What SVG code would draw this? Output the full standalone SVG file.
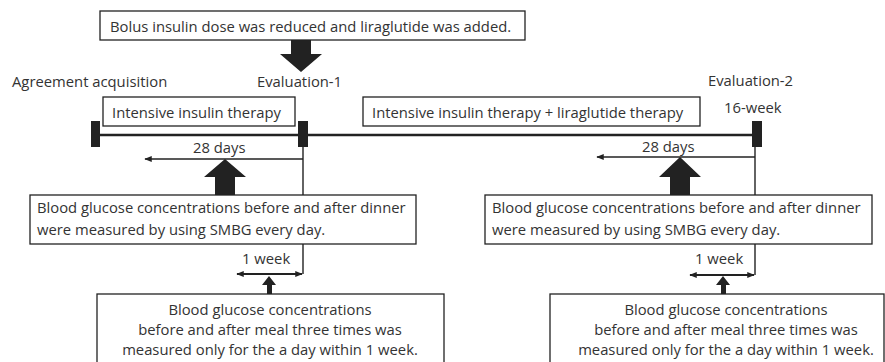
<svg xmlns="http://www.w3.org/2000/svg" width="885" height="362" viewBox="0 0 885 362">
<style>
text{font-family:"Open Sans","Liberation Sans",sans-serif;font-size:14.8px;fill:#333}
.box{fill:#fff;stroke:#222;stroke-width:1.3}
.ln{stroke:#222;stroke-width:1.4;fill:none}
.wk{stroke:#222;stroke-width:2;fill:none}
.tl{stroke:#222;stroke-width:2.6;fill:none}
.blk{fill:#222}
.c{text-anchor:middle}
</style>
<defs>
<marker id="ah" viewBox="0 0 10 8" refX="9" refY="4" markerWidth="8" markerHeight="6" orient="auto-start-reverse" markerUnits="userSpaceOnUse">
<path d="M0,0 L10,4 L0,8 Z" fill="#222"/>
</marker>
</defs>
<g id="connectors">
<line class="tl" x1="96" y1="135" x2="757" y2="135"/>
<line class="ln" x1="303" y1="147" x2="303" y2="274"/>
<line class="ln" x1="755" y1="147" x2="755" y2="275"/>
<line class="ln" x1="145" y1="159" x2="303" y2="159" marker-start="url(#ah)"/>
<line class="ln" x1="597" y1="157" x2="755" y2="157" marker-start="url(#ah)"/>
<line class="wk" x1="237" y1="274" x2="302" y2="274" marker-start="url(#ah)" marker-end="url(#ah)"/>
<line class="wk" x1="690" y1="275" x2="754" y2="275" marker-start="url(#ah)" marker-end="url(#ah)"/>
<polygon class="blk" points="291,40 311,40 311,54 322,54 301,72 280,54 291,54"/>
<polygon class="blk" points="225,159 246,177 235,177 235,195 215,195 215,177 204,177"/>
<polygon class="blk" points="680,157 701,177 690,177 690,195 670,195 670,177 659,177"/>
<polygon class="blk" points="269,276 276,285 272,285 272,294 267,294 267,285 262,285"/>
<polygon class="blk" points="723,276 730,285 726,285 726,294 721,294 721,285 716,285"/>
</g>
<g id="bars">
<rect class="blk" x="91" y="121" width="9" height="26"/>
<rect class="blk" x="298" y="121" width="10" height="26"/>
<rect class="blk" x="752" y="121" width="10" height="26"/>
</g>
<g id="top-note">
<rect class="box" x="100" y="11" width="425" height="29"/>
<text x="110" y="32">Bolus insulin dose was reduced and liraglutide was added.</text>
</g>
<g id="agreement"><text x="12" y="87">Agreement acquisition</text></g>
<g id="eval1"><text x="257" y="87">Evaluation-1</text></g>
<g id="eval2"><text x="708" y="86">Evaluation-2</text><text x="724" y="113">16-week</text></g>
<g id="phase1">
<rect class="box" x="103" y="97" width="192" height="29"/>
<text x="112" y="118">Intensive insulin therapy</text>
</g>
<g id="phase2">
<rect class="box" x="363" y="97" width="337" height="29"/>
<text x="372" y="118">Intensive insulin therapy + liraglutide therapy</text>
</g>
<g id="days1"><text x="193" y="153">28 days</text></g>
<g id="days2"><text x="642" y="152">28 days</text></g>
<g id="smbg1">
<rect class="box" x="30" y="195" width="386" height="49"/>
<text x="37" y="213">Blood glucose concentrations before and after dinner</text>
<text x="37" y="235">were measured by using SMBG every day.</text>
</g>
<g id="smbg2">
<rect class="box" x="485" y="195" width="387" height="49"/>
<text x="492" y="213">Blood glucose concentrations before and after dinner</text>
<text x="492" y="235">were measured by using SMBG every day.</text>
</g>
<g id="week1"><text x="242" y="264">1 week</text></g>
<g id="week2"><text x="695" y="264">1 week</text></g>
<g id="meal1">
<rect class="box" x="97" y="294" width="347" height="80"/>
<text class="c" x="270" y="315">Blood glucose concentrations</text>
<text class="c" x="270" y="335">before and after meal three times was</text>
<text class="c" x="270" y="355">measured only for the a day within 1 week.</text>
</g>
<g id="meal2">
<rect class="box" x="550" y="294" width="334" height="80"/>
<text class="c" x="726" y="315">Blood glucose concentrations</text>
<text class="c" x="726" y="335">before and after meal three times was</text>
<text class="c" x="726" y="355">measured only for the a day within 1 week.</text>
</g>
</svg>
